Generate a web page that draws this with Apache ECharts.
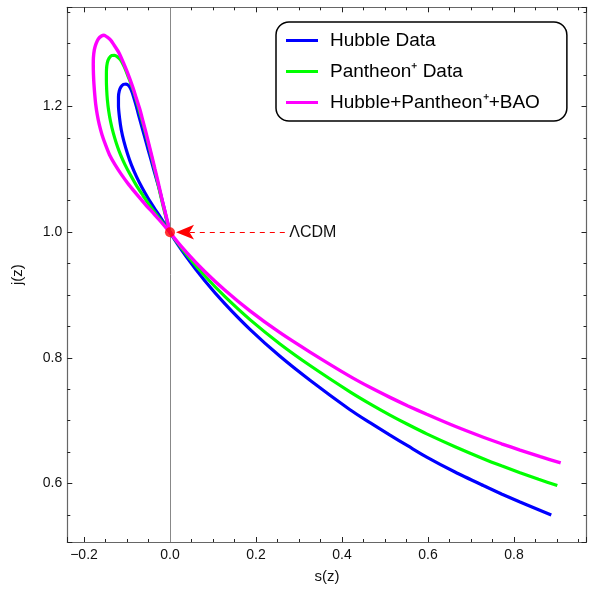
<!DOCTYPE html>
<html>
<head>
<meta charset="utf-8">
<title>j(z) vs s(z)</title>
<script src="https://cdn.jsdelivr.net/npm/echarts@6.0.0/dist/echarts.min.js"></script>
<style>
html, body { margin: 0; padding: 0; background: #fff; }
#main { width: 591px; height: 589px; }
</style>
</head>
<body>
<div id="main"></div>
<script>
// curves: loop first (from the LCDM point), then the lower branch
var hubbleS = [0, -0.0105, -0.0233, -0.0372, -0.0512, -0.0651, -0.0779, -0.0895, -0.0988, -0.1070, -0.1133, -0.1174, -0.1198, -0.1198, -0.1179, -0.1140, -0.1081, -0.1023, -0.0965, -0.0919,
    -0.0872, -0.0826, -0.0779, -0.0737, -0.0686, -0.0628, -0.0570, -0.0512, -0.0442, -0.0372, -0.0302, -0.0233, -0.0174, -0.0128, -0.0081, -0.0040, 0,
    0.0395, 0.0814, 0.1279, 0.1860, 0.2558, 0.3256, 0.4186, 0.4651, 0.5116, 0.5535, 0.5970, 0.6628, 0.7286, 0.7709, 0.8140, 0.8502, 0.8867];
var hubbleJ = [1.0, 1.0114, 1.0249, 1.0392, 1.0543, 1.0710, 1.0884, 1.1067, 1.1249, 1.1440, 1.1630, 1.1821, 1.2011, 1.2154, 1.2249, 1.2313, 1.2352, 1.2356, 1.2337, 1.2289,
    1.2210, 1.2106, 1.1995, 1.1884, 1.1757, 1.1614, 1.1471, 1.1321, 1.1154, 1.0979, 1.0813, 1.0646, 1.0487, 1.0360, 1.0217, 1.0106, 1.0,
    0.9595, 0.9224, 0.8859, 0.8454, 0.8025, 0.7644, 0.7175, 0.6968, 0.6770, 0.6598, 0.6421, 0.6183, 0.5968, 0.5835, 0.5706, 0.5602, 0.5498];

var pantheonS = [0, -0.0140, -0.0302, -0.0465, -0.0628, -0.0779, -0.0919, -0.1047, -0.1151, -0.1244, -0.1321, -0.1381, -0.1426, -0.1456, -0.1472, -0.1479, -0.1477, -0.1458, -0.1419, -0.1356, -0.1291,
    -0.1221, -0.1151, -0.1086, -0.1023, -0.0965, -0.0907, -0.0849, -0.0779, -0.0709, -0.0640, -0.0570, -0.0500, -0.0430, -0.0360, -0.0291, -0.0233, -0.0174, -0.0128, -0.0081, -0.0040, 0,
    0.0395, 0.0814, 0.1279, 0.1860, 0.2558, 0.3256, 0.4186, 0.4651, 0.5116, 0.5535, 0.5970, 0.6628, 0.7286, 0.7709, 0.8140, 0.8572, 0.9007];
var pantheonJ = [1.0, 1.0122, 1.0265, 1.0416, 1.0583, 1.0741, 1.0908, 1.1075, 1.1233, 1.1408, 1.1583, 1.1757, 1.1932, 1.2106, 1.2265, 1.2424, 1.2583, 1.2694, 1.2765, 1.2810, 1.2813,
    1.2789, 1.2741, 1.2662, 1.2567, 1.2463, 1.2360, 1.2249, 1.2090, 1.1924, 1.1757, 1.1575, 1.1392, 1.1202, 1.1003, 1.0805, 1.0630, 1.0456, 1.0329, 1.0202, 1.0098, 1.0,
    0.9635, 0.9302, 0.8973, 0.8608, 0.8222, 0.7879, 0.7460, 0.7269, 0.7090, 0.6939, 0.6791, 0.6587, 0.6396, 0.6282, 0.6172, 0.6068, 0.5968];

var combS = [0, -0.0156, -0.0360, -0.0570, -0.0767, -0.0958, -0.1128, -0.1279, -0.1407, -0.1500, -0.1581, -0.1644, -0.1691, -0.1726, -0.1749, -0.1767, -0.1779, -0.1784, -0.1781, -0.1760, -0.1721, -0.1667, -0.1593, -0.1535,
    -0.1465, -0.1384, -0.1302, -0.1202, -0.1116, -0.1023, -0.0942, -0.0860, -0.0779, -0.0698, -0.0628, -0.0558, -0.0488, -0.0419, -0.0349, -0.0279, -0.0221, -0.0163, -0.0116, -0.0070, -0.0033, 0,
    0.0395, 0.0814, 0.1279, 0.1860, 0.2558, 0.3256, 0.4186, 0.4651, 0.5116, 0.5535, 0.5970, 0.6628, 0.7286, 0.7709, 0.8140, 0.8612, 0.9086];
var combJ = [1.0, 1.0122, 1.0281, 1.0440, 1.0598, 1.0757, 1.0916, 1.1075, 1.1233, 1.1392, 1.1551, 1.1710, 1.1868, 1.2027, 1.2186, 1.2344, 1.2503, 1.2662, 1.2773, 1.2900, 1.2995, 1.3075, 1.3122, 1.3133,
    1.3106, 1.3059, 1.2979, 1.2873, 1.2749, 1.2598, 1.2456, 1.2297, 1.2122, 1.1948, 1.1765, 1.1583, 1.1392, 1.1202, 1.1003, 1.0805, 1.0630, 1.0456, 1.0329, 1.0202, 1.0098, 1.0,
    0.9671, 0.9371, 0.9076, 0.8748, 0.8400, 0.8092, 0.7705, 0.7531, 0.7371, 0.7235, 0.7102, 0.6911, 0.6737, 0.6633, 0.6532, 0.6428, 0.6328];

var lcdmPoint = [0, 1.0];
var arrowFrom = [0.267, 1.0];
var arrowTo = [0.014, 1.0];

var seriesNames = ['Hubble Data', 'Pantheon\u207A Data', 'Hubble+Pantheon\u207A+BAO'];

var xMin = -0.2388, xMax = 0.9686;
var yMin = 0.507, yMax = 1.3578;

var font = 'Liberation Sans, Arial, sans-serif';

function pairs(a, b) {
    return a.map(function (v, i) { return [v, b[i]]; });
}

function tickFmt(v) {
    var k = Math.round(v / 0.2);
    if (Math.abs(v - k * 0.2) > 1e-6) return '';
    return (k * 0.2).toFixed(1).replace('-', '\u2212');
}

function frameAxis(pos, min, max, labels) {
    return {
        type: 'value',
        position: pos,
        min: min,
        max: max,
        splitLine: { show: false },
        axisLine: { show: true, onZero: false, lineStyle: { color: '#666', width: 1.2 } },
        axisTick: { show: true, inside: true, length: 5, lineStyle: { color: '#222' } },
        minorTick: { show: true, splitNumber: 4, length: 3, lineStyle: { color: '#222' } },
        axisLabel: {
            show: labels,
            formatter: tickFmt,
            fontFamily: font,
            fontSize: 14,
            color: '#111',
            margin: 6,
            showMinLabel: true,
            showMaxLabel: true
        }
    };
}

var chart = echarts.init(document.getElementById('main'));

var xBottom = frameAxis('bottom', xMin, xMax, true);
xBottom.name = 's(z)';
xBottom.nameLocation = 'middle';
xBottom.nameGap = 27;
xBottom.nameTextStyle = { fontFamily: font, fontSize: 15, color: '#111' };

var yLeft = frameAxis('left', yMin, yMax, true);
yLeft.axisLabel.margin = 5;
yLeft.name = 'j(z)';
yLeft.nameLocation = 'middle';
yLeft.nameGap = 42;
yLeft.nameTextStyle = { fontFamily: font, fontSize: 15, color: '#111' };

function curve(name, s, j, color, width, z) {
    return {
        name: name,
        type: 'line',
        data: pairs(s, j),
        showSymbol: false,
        smooth: 0.25,
        z: z,
        itemStyle: { color: color },
        lineStyle: { color: color, width: width }
    };
}

var option = {
    animation: false,
    backgroundColor: '#fff',
    grid: { left: 67.3, right: 4.5, top: 7.3, bottom: 45.7, containLabel: false },
    xAxis: [xBottom, frameAxis('top', xMin, xMax, false)],
    yAxis: [yLeft, frameAxis('right', yMin, yMax, false)],
    legend: {
        data: seriesNames,
        orient: 'vertical',
        left: 276,
        top: 22,
        icon: 'rect',
        itemWidth: 32,
        itemHeight: 3,
        itemGap: 12,
        padding: [9, 27, 9, 10],
        borderColor: '#000',
        borderWidth: 1.5,
        borderRadius: 13,
        textStyle: { fontFamily: font, fontSize: 19, color: '#000', padding: [0, 0, 0, 7] }
    },
    series: [
        {
            name: 'zeroLine',
            type: 'line',
            data: [],
            z: 1,
            markLine: {
                silent: true,
                symbol: ['none', 'none'],
                label: { show: false },
                lineStyle: { color: '#888', width: 1, type: 'solid' },
                data: [{ xAxis: 0 }]
            }
        },
        curve(seriesNames[0], hubbleS, hubbleJ, '#0000ff', 3.2, 2),
        curve(seriesNames[1], pantheonS, pantheonJ, '#00ff00', 3.2, 3),
        curve(seriesNames[2], combS, combJ, '#ff00ff', 3.4, 4),
        {
            name: 'LCDM',
            type: 'scatter',
            data: [lcdmPoint],
            symbolSize: 10,
            z: 10,
            itemStyle: { color: '#ff0000' },
            markLine: {
                silent: true,
                label: { show: false },
                lineStyle: { color: '#ff0000', width: 1, type: [5, 5] },
                data: [[
                    { coord: arrowFrom, symbol: 'none' },
                    { coord: arrowTo, symbol: 'arrow', symbolSize: [11, 18] }
                ]]
            },
            markPoint: {
                silent: true,
                data: [{
                    coord: arrowFrom,
                    symbol: 'circle',
                    symbolSize: 1,
                    itemStyle: { color: 'rgba(0,0,0,0)' },
                    label: {
                        show: true,
                        position: 'right',
                        distance: 4,
                        formatter: '\u039BCDM',
                        fontFamily: font,
                        fontSize: 16,
                        color: '#111'
                    }
                }]
            }
        }
    ]
};

chart.setOption(option);
</script>
</body>
</html>
